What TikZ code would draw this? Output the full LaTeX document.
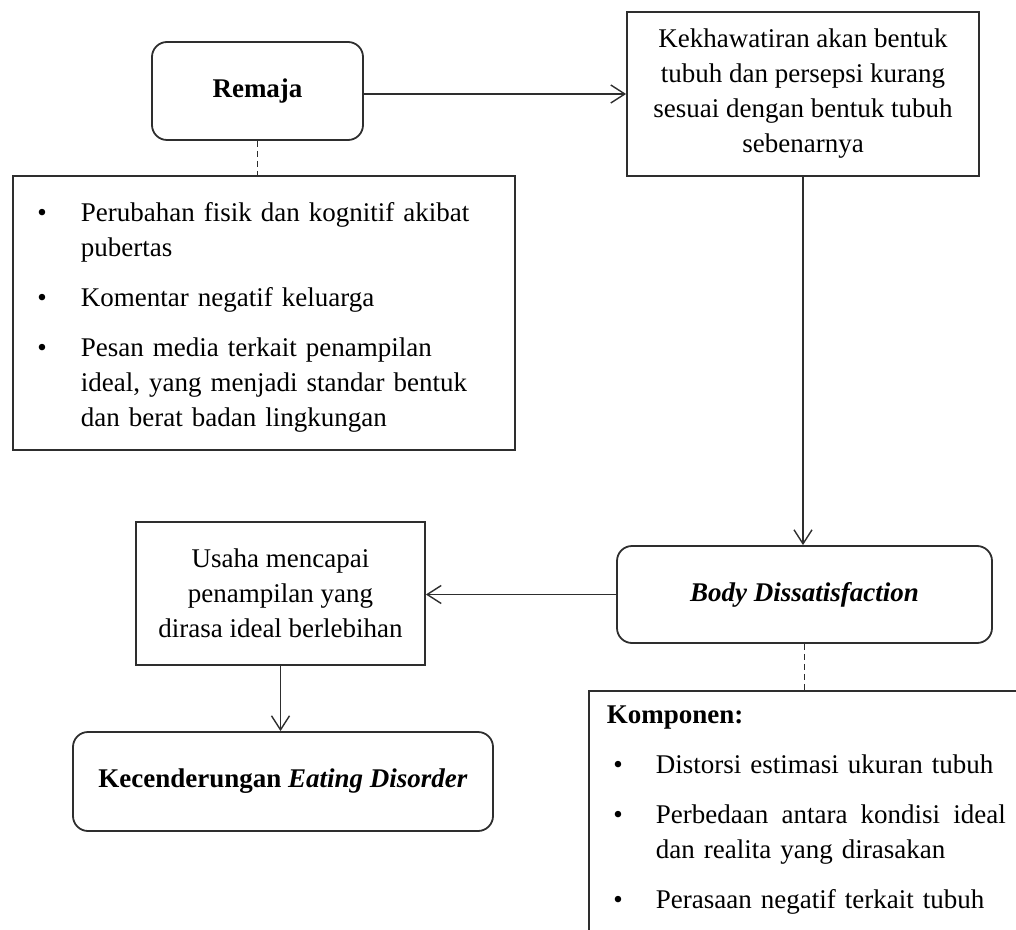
\documentclass[tikz,border=0pt]{standalone}
\usepackage{fontspec}
\setmainfont{Liberation Serif}
\usepackage{enumitem}
\usetikzlibrary{arrows.meta,positioning}
\definecolor{boxline}{HTML}{2E2E2E}
\setlist[itemize]{leftmargin=25pt, labelsep=17pt, labelwidth=5pt, topsep=7.5pt,
  partopsep=0pt, parsep=0pt, itemsep=7.5pt}
\tikzset{
  basefont/.style={font=\fontsize{13.5}{17.5}\selectfont},
  roundbox/.style={
    rectangle, rounded corners=7.5pt, draw=boxline, line width=0.9pt,
    inner sep=0pt, align=center, basefont
  },
  plainbox/.style={
    rectangle, draw=boxline, line width=0.9pt,
    inner sep=0pt, align=center, basefont
  },
  listbox/.style={
    rectangle, draw=boxline, line width=0.9pt,
    inner xsep=9pt, inner ysep=7.5pt, align=left, basefont
  },
  flowarrow/.style={-{Straight Barb[length=7pt,width=9pt]}, line width=0.7pt, color=boxline},
  dashlink/.style={dash pattern=on 3pt off 2pt, line width=0.7pt, color=boxline},
}

\begin{document}
\begin{tikzpicture}[x=0.5pt, y=-0.5pt]
  \useasboundingbox (0,0) rectangle (1016,930);
  \clip (0,0) rectangle (1016,930);
  \node[roundbox, minimum width=105.5pt, minimum height=49pt] (remaja) at (257.5,91) {\textbf{Remaja}};
  \node[plainbox, minimum width=176pt, minimum height=82pt] (kekh) at (803,94)
    {Kekhawatiran akan bentuk\\tubuh dan persepsi kurang\\sesuai dengan bentuk tubuh\\sebenarnya};
  \node[listbox, anchor=north west, text width=233pt, minimum height=137pt, inner ysep=4pt] (faktor) at (12,175) {%
    \vspace*{-3pt}
    \begin{itemize}[topsep=0pt]
      \item Perubahan fisik dan kognitif akibat\newline pubertas
      \item Komentar negatif keluarga
      \item Pesan media terkait penampilan\newline ideal, yang menjadi standar bentuk\newline dan berat badan lingkungan
    \end{itemize}\par\vspace*{13pt}};
  \node[roundbox, minimum width=187.5pt, minimum height=48.5pt] (bd) at (804.5,594.5)
    {\textbf{\textit{Body Dissatisfaction}}};
  \node[plainbox, minimum width=144.5pt, minimum height=71.5pt] (usaha) at (280.5,593.5)
    {Usaha mencapai\\penampilan yang\\dirasa ideal berlebihan};
  \node[roundbox, minimum width=210pt, minimum height=49.5pt] (cenderung) at (283,781.5)
    {\textbf{Kecenderungan \textit{Eating Disorder}}};
  \node[listbox, anchor=north west, text width=199.5pt] (komponen) at (588,690) {%
    \textbf{Komponen:}
    \begin{itemize}[leftmargin=24.5pt, labelsep=16.5pt]
      \item Distorsi estimasi ukuran tubuh
      \item Perbedaan\hfill antara\hfill kondisi\hfill ideal\newline dan realita yang dirasakan
      \item Perasaan negatif terkait tubuh
    \end{itemize}\par\vspace*{30pt}};
  % connectors
  \draw[flowarrow] (kekh.west -| remaja.east) -- (kekh.west);
  \draw[flowarrow] (kekh.south) -- (kekh.south |- bd.north);
  \draw[flowarrow] (bd.west) -- (bd.west -| usaha.east);
  \draw[flowarrow] (usaha.south) -- (usaha.south |- cenderung.north);
  \draw[dashlink] (remaja.south) -- (remaja.south |- faktor.north);
  \draw[dashlink] (bd.south) -- (bd.south |- komponen.north);
\end{tikzpicture}
\end{document}
